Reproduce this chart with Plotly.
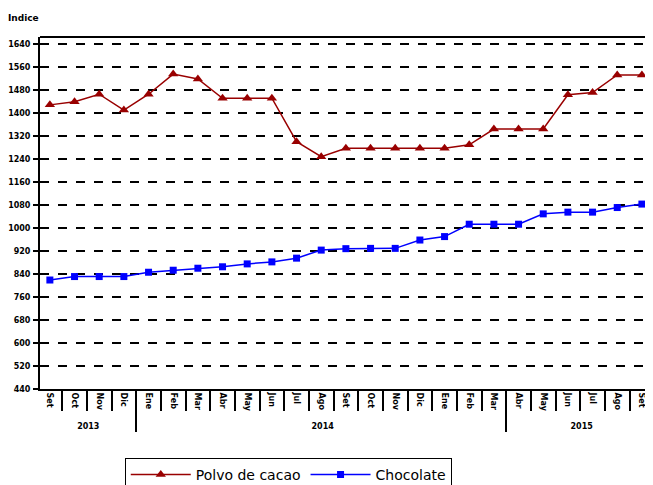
import plotly.graph_objects as go

# axis labels (the year grouping follows the original chart)
years = ["2013"] * 4 + ["2014"] * 15 + ["2015"] * 6
months = ["Set", "Oct", "Nov", "Dic",
          "Ene", "Feb", "Mar", "Abr", "May", "Jun", "Jul", "Ago", "Set", "Oct", "Nov", "Dic",
          "Ene", "Feb", "Mar",
          "Abr", "May", "Jun", "Jul", "Ago", "Set"]

polvo = [1428, 1439, 1465, 1410, 1465, 1535, 1518, 1451, 1451, 1451, 1300, 1248, 1277,
         1277, 1277, 1277, 1277, 1289, 1344, 1344, 1344, 1463, 1471, 1532, 1532]
chocolate = [819, 831, 831, 831, 846, 853, 860, 865, 875, 882, 895, 923, 928,
             929, 929, 958, 970, 1013, 1013, 1013, 1049, 1055, 1055, 1071, 1083]

y_ticks = list(range(440, 1641, 80))

# plotly orders inner categories globally, so make every month label unique
# with invisible zero-width characters
seen = {}
month_keys = []
for m in months:
    n = seen.get(m, 0)
    month_keys.append(m + "\u200b" * n)
    seen[m] = n + 1
x_cat = [years, month_keys]

fig = go.Figure()
fig.add_trace(go.Scatter(x=x_cat, y=polvo, name="Polvo de cacao",
                         mode="lines+markers",
                         line=dict(color="#990000", width=1.5),
                         marker=dict(symbol="triangle-up", size=9, color="#990000")))
fig.add_trace(go.Scatter(x=x_cat, y=chocolate, name="Chocolate",
                         mode="lines+markers",
                         line=dict(color="#0000ff", width=1.5),
                         marker=dict(symbol="square", size=7, color="#0000ff")))

# the page body has an 8px margin, so the figure is sized to fit inside it
fig.update_layout(
    width=645, height=477,
    margin=dict(l=32, r=0, t=29, b=96, autoexpand=False),
    paper_bgcolor="white", plot_bgcolor="white",
    font=dict(family="DejaVu Sans", color="black"),
    showlegend=True,
    legend=dict(orientation="h", x=0.405, xanchor="center",
                yref="container", y=0.0566, yanchor="top",
                bordercolor="black", borderwidth=1,
                font=dict(size=14, family="DejaVu Sans"),
                itemwidth=60, tracegroupgap=0),
    annotations=[dict(text="<b>Indice</b>", xref="paper", yref="paper", x=-0.0556, y=1.034,
                      xanchor="left", yanchor="bottom", showarrow=False,
                      font=dict(size=9, family="DejaVu Sans"))],
)

fig.update_xaxes(
    type="multicategory", range=[-0.40, 24.45], automargin=False,
    showline=True, linecolor="black", linewidth=2, mirror=False,
    ticks="outside", ticklen=20, tickwidth=2, tickcolor="black", tickson="boundaries",
    tickangle=90, tickfont=dict(size=8, family="DejaVu Sans", weight="bold"),
    ticklabeloverflow="allow",
    showdividers=True, dividercolor="black", dividerwidth=2,
    showgrid=False,
)
fig.update_yaxes(
    range=[440, 1664], tickvals=y_ticks, automargin=False,
    showline=True, linecolor="black", linewidth=2,
    ticks="outside", ticklen=5, tickwidth=2, tickcolor="black", ticklabelstandoff=1,
    tickfont=dict(size=8, family="DejaVu Sans", weight="bold"),
    showgrid=True, gridcolor="black", gridwidth=2, griddash="dash",
    zeroline=False,
)
# top frame line of the plot area
fig.add_shape(type="line", xref="paper", yref="paper", x0=0, x1=1, y0=1, y1=1,
              line=dict(color="black", width=2))

fig.write_html("out.html")
